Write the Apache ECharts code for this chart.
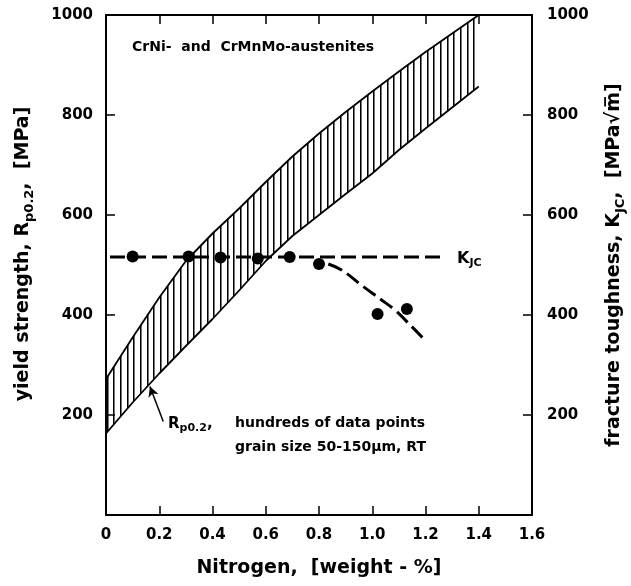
<!DOCTYPE html>
<html>
<head>
<meta charset="utf-8">
<title>Nitrogen - yield strength and fracture toughness</title>
<script src="https://cdn.jsdelivr.net/npm/echarts@6/dist/echarts.min.js"></script>
<style>
  html, body { margin: 0; padding: 0; background: #fff; }
  #chart { width: 631px; height: 586px; }
</style>
</head>
<body>
<div id="chart"></div>
<script>
// nitrogen content [weight-%] at which the Rp0.2 band was read
var bandX = [0, 0.1, 0.2, 0.3, 0.4, 0.5, 0.6, 0.7, 0.8, 0.9, 1.0, 1.1, 1.2, 1.3, 1.4]
// Rp0.2 scatter band, lower / upper bound [MPa]
var bandLower = [163, 225, 283, 338, 392, 449, 508, 558, 600, 642, 683, 730, 773, 815, 857]
var bandUpper = [272, 355, 435, 508, 563, 613, 666, 717, 763, 806, 847, 887, 926, 963, 1000]

// K_JC measurements [MPa*sqrt(m)]
var kjcX = [0.10, 0.31, 0.43, 0.57, 0.69, 0.80, 1.02, 1.13]
var kjcY = [517, 517, 515, 513, 516, 502, 402, 412]
// dashed K_JC level and the drop-off above 0.8 %
var kjcLevelX = [0.015, 1.26]
var kjcLevelY = [516, 516]
var kjcDropX = [0.835, 0.885, 0.966, 1.035, 1.085, 1.148, 1.192]
var kjcDropY = [502, 490, 457, 430, 410, 377, 353]

// tick labels
var xTicks = ['0', '0.2', '0.4', '0.6', '0.8', '1.0', '1.2', '1.4', '1.6']
var yTicks = ['', '200', '400', '600', '800', '1000']

// arrow from the Rp0.2 note to the band
var arrowFrom = [0.215, 187]
var arrowTo = [0.165, 257]

var FONT = 'DejaVu Sans'

function zip (xs, ys) {
  return xs.map(function (x, i) { return [x, ys[i]] })
}

// vertical hatching for the scatter band
function hatchPattern () {
  var c = document.createElement('canvas')
  c.width = 20
  c.height = 20
  var ctx = c.getContext('2d')
  ;[0, 7, 13].forEach(function (x) {
    ctx.fillStyle = '#000'
    ctx.fillRect(x, 0, 1, 20)
    ctx.fillStyle = 'rgba(0,0,0,0.55)'
    ctx.fillRect(x + 1, 0, 1, 20)
  })
  return { type: 'pattern', image: c, repeat: 'repeat' }
}
var hatch = hatchPattern()

var bold = { fontFamily: FONT, fontWeight: 'bold', color: '#000' }
var tickLabel = Object.assign({ fontSize: 15 }, bold)
var frame = { show: true, onZero: false, lineStyle: { color: '#000', width: 2 } }
var ticks = { show: true, inside: true, length: 9, lineStyle: { color: '#000', width: 1.5 } }

function nameStyle (pad) {
  return Object.assign({
    fontSize: 19,
    padding: pad || 0,
    rich: {
      a: Object.assign({ fontSize: 19, verticalAlign: 'middle' }, bold),
      s: Object.assign({ fontSize: 13, verticalAlign: 'top', padding: [12, 0, 0, 0] }, bold)
    }
  }, bold)
}

var dashed = { color: '#000', width: 3, type: [15, 6] }

var chart = echarts.init(document.getElementById('chart'))
var option = {
  backgroundColor: '#fff',
  animation: false,
  grid: { left: 106, right: 99, top: 15, bottom: 71, outerBoundsMode: 'none' },
  xAxis: [
    {
      type: 'value',
      position: 'bottom',
      min: 0,
      max: 1.6,
      interval: 0.2,
      axisLine: frame,
      axisTick: ticks,
      splitLine: { show: false },
      axisLabel: Object.assign({
        margin: 13,
        formatter: function (v) { return xTicks[Math.round(v / 0.2)] }
      }, tickLabel),
      name: '{a|Nitrogen,  [weight - %]}',
      nameLocation: 'middle',
      nameGap: 44,
      nameMoveOverlap: false,
      nameTextStyle: nameStyle()
    },
    {
      type: 'value',
      position: 'top',
      min: 0,
      max: 1.6,
      interval: 0.2,
      axisLine: frame,
      axisTick: ticks,
      axisLabel: { show: false },
      splitLine: { show: false }
    }
  ],
  yAxis: [
    {
      type: 'value',
      position: 'left',
      min: 0,
      max: 1000,
      interval: 200,
      axisLine: frame,
      axisTick: ticks,
      splitLine: { show: false },
      axisLabel: Object.assign({
        margin: 13,
        formatter: function (v) { return yTicks[Math.round(v / 200)] }
      }, tickLabel),
      name: '{a|yield strength, R}{s|p0.2}{a|,  [MPa]}',
      nameLocation: 'middle',
      nameRotate: 90,
      nameGap: 70,
      nameMoveOverlap: false,
      nameTextStyle: nameStyle([0, 0, 0, 22])
    },
    {
      type: 'value',
      position: 'right',
      min: 0,
      max: 1000,
      interval: 200,
      axisLine: frame,
      axisTick: ticks,
      splitLine: { show: false },
      axisLabel: Object.assign({
        margin: 15,
        formatter: function (v) { return yTicks[Math.round(v / 200)] }
      }, tickLabel),
      name: '{a|fracture toughness, K}{s|JC}{a|,  [MPa√m̅]}',
      nameLocation: 'middle',
      nameRotate: 90,
      nameGap: 70,
      nameMoveOverlap: false,
      nameTextStyle: nameStyle()
    }
  ],
  series: [
    {
      name: 'Rp0.2 band',
      type: 'custom',
      data: zip(bandX, bandLower),
      silent: true,
      renderItem: function (params, api) {
        if (params.dataIndex !== 0) return
        var pts = []
        bandX.forEach(function (x, i) { pts.push(api.coord([x, bandUpper[i]])) })
        for (var i = bandX.length - 1; i >= 0; i--) pts.push(api.coord([bandX[i], bandLower[i]]))
        return { type: 'polygon', shape: { points: pts }, style: { fill: hatch, stroke: null } }
      }
    },
    {
      name: 'Rp0.2 lower',
      type: 'line',
      data: zip(bandX, bandLower),
      symbol: 'none',
      lineStyle: { color: '#000', width: 1.8 }
    },
    {
      name: 'Rp0.2 upper',
      type: 'line',
      data: zip(bandX, bandUpper),
      symbol: 'none',
      lineStyle: { color: '#000', width: 1.8 }
    },
    {
      name: 'KJC level',
      type: 'line',
      yAxisIndex: 1,
      data: zip(kjcLevelX, kjcLevelY),
      symbol: 'none',
      lineStyle: dashed
    },
    {
      name: 'KJC drop',
      type: 'line',
      yAxisIndex: 1,
      data: zip(kjcDropX, kjcDropY),
      smooth: 0.4,
      symbol: 'none',
      lineStyle: dashed
    },
    {
      name: 'KJC',
      type: 'scatter',
      yAxisIndex: 1,
      data: zip(kjcX, kjcY),
      symbol: 'circle',
      symbolSize: 12,
      itemStyle: { color: '#000', opacity: 1 },
      z: 5
    },
    {
      name: 'arrow',
      type: 'line',
      data: [],
      markLine: {
        silent: true,
        symbol: ['none', 'arrow'],
        symbolSize: [8, 10],
        label: { show: false },
        lineStyle: { color: '#000', width: 1.5, type: 'solid' },
        data: [[{ coord: arrowFrom }, { coord: arrowTo }]]
      }
    }
  ],
  graphic: [
    {
      type: 'text',
      x: 132,
      y: 47,
      style: { text: 'CrNi-  and  CrMnMo-austenites', fontFamily: FONT, fontWeight: 'bold', fontSize: 14, fill: '#000', verticalAlign: 'middle' }
    },
    {
      type: 'text',
      x: 168,
      y: 424,
      style: {
        text: '{a|R}{s|p0.2},',
        fill: '#000',
        fontFamily: FONT,
        fontWeight: 'bold',
        fontSize: 15,
        verticalAlign: 'middle',
        rich: {
          a: { fontFamily: FONT, fontWeight: 'bold', fontSize: 15, verticalAlign: 'middle' },
          s: { fontFamily: FONT, fontWeight: 'bold', fontSize: 11, verticalAlign: 'top', padding: [9, 0, 0, 0] }
        }
      }
    },
    {
      type: 'text',
      x: 235,
      y: 423,
      style: { text: 'hundreds of data points', fontFamily: FONT, fontWeight: 'bold', fontSize: 14, fill: '#000', verticalAlign: 'middle' }
    },
    {
      type: 'text',
      x: 235,
      y: 447,
      style: { text: 'grain size 50-150μm, RT', fontFamily: FONT, fontWeight: 'bold', fontSize: 14, fill: '#000', verticalAlign: 'middle' }
    },
    {
      type: 'text',
      x: 457,
      y: 259,
      style: {
        text: '{a|K}{s|JC}',
        fill: '#000',
        fontFamily: FONT,
        fontWeight: 'bold',
        fontSize: 16,
        verticalAlign: 'middle',
        rich: {
          a: { fontFamily: FONT, fontWeight: 'bold', fontSize: 16, verticalAlign: 'middle' },
          s: { fontFamily: FONT, fontWeight: 'bold', fontSize: 11, verticalAlign: 'top', padding: [9, 0, 0, 0] }
        }
      }
    }
  ]
}
chart.setOption(option)
window.addEventListener('resize', function () { chart.resize() })
</script>
</body>
</html>
